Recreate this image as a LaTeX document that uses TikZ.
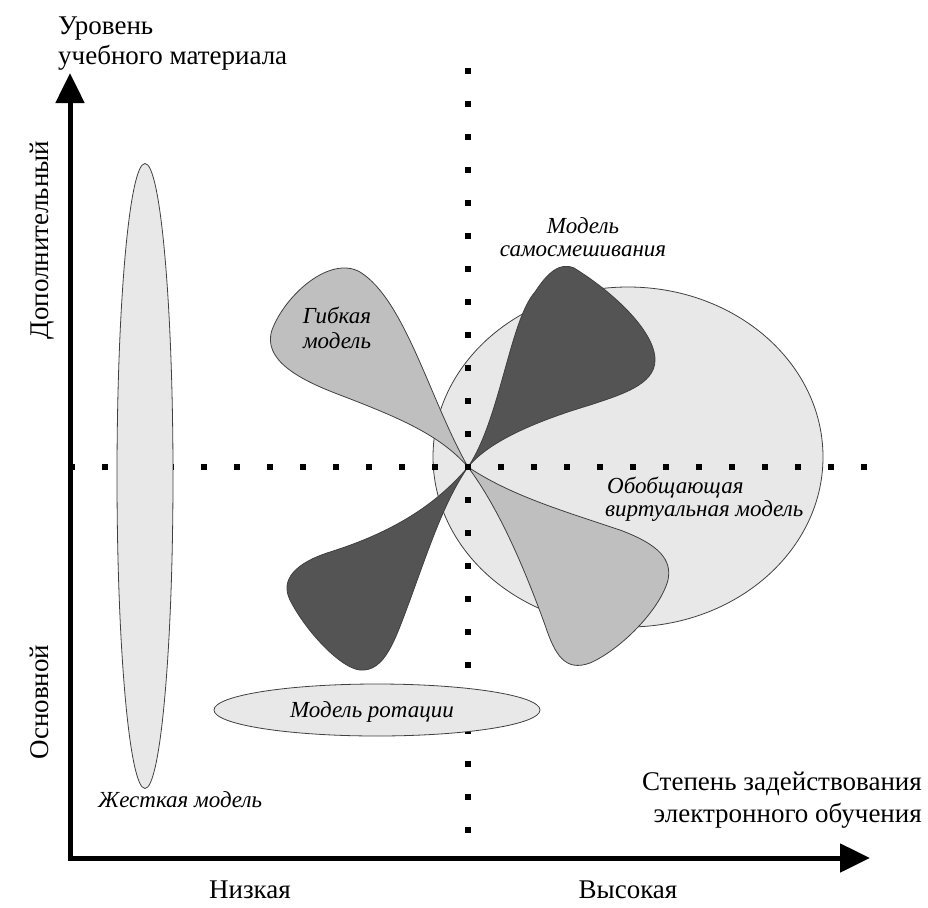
\documentclass[tikz,border=0pt]{standalone}
\usepackage{fontspec}
\setmainfont{Liberation Serif}
\newfontfamily\tnr{Liberation Serif}
\usetikzlibrary{arrows.meta,shapes.geometric,calc}
\tikzset{
  axisline/.style={line width=5pt,-{Triangle[width=28pt,length=30pt]}},
  lightfill/.style={draw=black!75,line width=0.8pt,fill=black!9},
  petallight/.style={draw=black!75,line width=0.8pt,fill=black!25},
  petaldark/.style={draw=black!75,line width=0.8pt,fill=black!67},
  dotsq/.style={fill=black,minimum size=5.5pt,inner sep=0pt,draw=none,rectangle},
  axtext/.style={font=\tnr\fontsize{27}{30}\selectfont,inner sep=0pt},
  ittext/.style={font=\tnr\fontsize{23}{24}\selectfont\itshape,inner sep=0pt,align=center},
}
\begin{document}
\begin{tikzpicture}[x=1pt,y=-1pt]
\useasboundingbox (0,0) rectangle (928,907);
\coordinate (O) at (468,467);
\coordinate (yb) at (70,858);
\coordinate (yt) at (70,73);
\coordinate (xe) at (870,858);
% large ellipse and petals
\node[lightfill,ellipse,minimum width=390pt,minimum height=340pt,inner sep=0pt] (gen) at (628,457) {};
\path[petallight] (O) .. controls (430,400) and (405,300) .. (360,272) .. controls (330,255) and (285,295) .. (272,330) .. controls (262,360) and (300,380) .. (340,395) .. controls (400,418) and (440,435) .. (O);
\path[petaldark] (O) .. controls (500,420) and (510,320) .. (535,292) .. controls (548,272) and (560,262) .. (574,268) .. controls (610,290) and (655,330) .. (655,360) .. controls (655,385) and (620,395) .. (590,405) .. controls (540,420) and (490,440) .. (O);
\path[petaldark] (O) .. controls (440,500) and (400,530) .. (330,552) .. controls (295,563) and (280,580) .. (290,600) .. controls (305,630) and (340,668) .. (360,670) .. controls (385,672) and (395,640) .. (410,600) .. controls (430,545) and (445,500) .. (O);
\path[petallight] (O) .. controls (510,495) and (560,510) .. (620,530) .. controls (660,545) and (672,560) .. (668,580) .. controls (660,610) and (620,650) .. (590,663) .. controls (565,672) and (555,655) .. (545,625) .. controls (525,570) and (500,510) .. (O);
% dotted grid lines
\foreach \k in {-12,...,12} {\node[dotsq] at ($(O)+(\k*33,0)$) {};}
\foreach \k in {-12,...,11} {\node[dotsq] at ($(O)+(0,\k*33)$) {};}
% ellipses over the dots
\node[lightfill,ellipse,minimum width=56pt,minimum height=625pt,inner sep=0pt] (rigid) at (145,476) {};
\node[lightfill,ellipse,minimum width=326pt,minimum height=52pt,inner sep=0pt] (rot) at (377,710) {};
% axes
\draw[axisline] (yb) -- (yt);
\draw[axisline] ([xshift=-2.5pt]yb) -- (xe);
% axis texts
\node[axtext,anchor=base west] (t1) at (58,35) {Уровень};
\node[axtext,anchor=base west] (t2) at (58,64) {учебного материала};
\node[axtext,rotate=90,anchor=base] (t3) at (48,240) {Дополнительный};
\node[axtext,rotate=90,anchor=base] (t4) at (48,702) {Основной};
\node[axtext,anchor=base] (t5) at (250,898) {Низкая};
\node[axtext,anchor=base] (t6) at (628,898) {Высокая};
\node[axtext,anchor=base east] (t7) at (922,790) {Степень задействования};
\node[axtext,anchor=base east] (t8) at (922,822) {электронного обучения};
% model labels
\node[ittext,anchor=base] (l1) at (583,233) {Модель};
\node[ittext,anchor=base] (l2) at (583,256) {самосмешивания};
\node[ittext,anchor=base] (l3) at (337,323) {Гибкая};
\node[ittext,anchor=base] (l4) at (337,348) {модель};
\node[ittext,anchor=base west] (l5) at (607,493) {Обобщающая};
\node[ittext,anchor=base west] (l6) at (605,516) {виртуальная модель};
\node[ittext,anchor=base] (l7) at (372,717) {Модель ротации};
\node[ittext,anchor=base west] (l8) at (98,807) {Жесткая модель};
\end{tikzpicture}
\end{document}
